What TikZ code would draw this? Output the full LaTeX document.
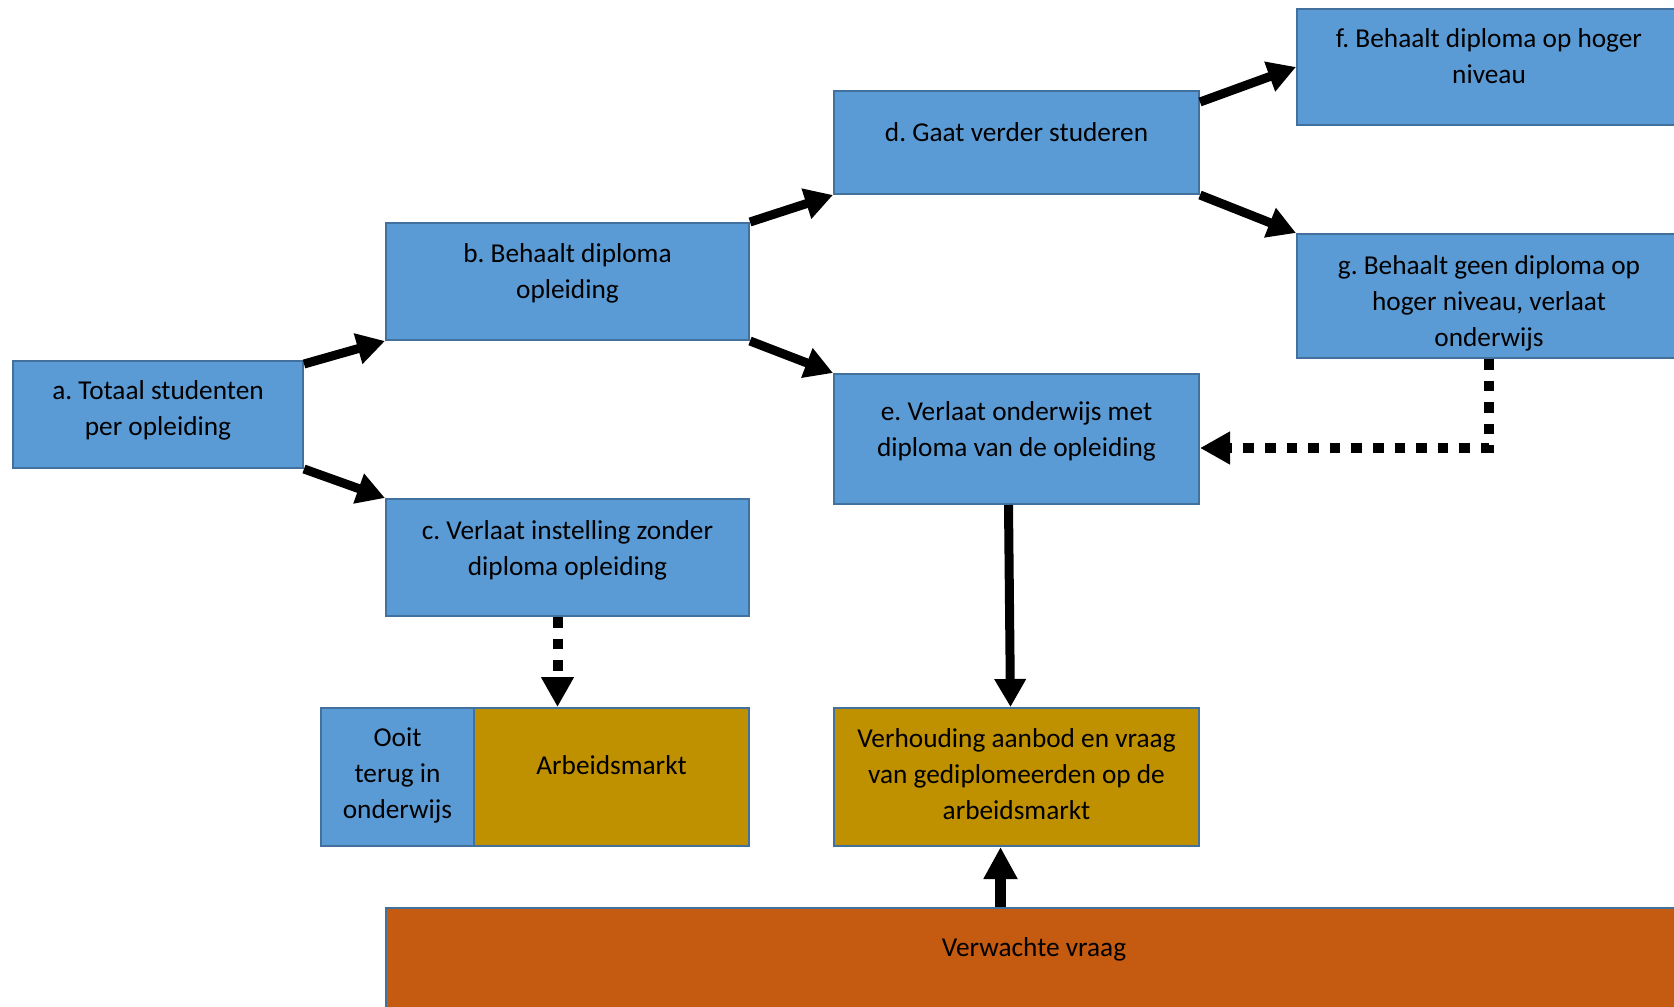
\documentclass[tikz,border=0pt]{standalone}
\usepackage{fontspec}
\setmainfont{Carlito}
\frenchspacing
\usetikzlibrary{arrows.meta,positioning}
\definecolor{boxblue}{HTML}{5B9BD5}
\definecolor{edgeblue}{HTML}{41719C}
\definecolor{ochre}{HTML}{BF9000}
\definecolor{rust}{HTML}{C55A11}

\begin{document}
\begin{tikzpicture}[x=0.5pt,y=-0.5pt,
  font=\fontsize{13.65pt}{18pt}\selectfont,
  box/.style={draw=edgeblue,line width=1pt,fill=boxblue,inner sep=0pt},
  txt/.style={align=center,inner sep=0pt},
  arr/.style={line width=4.5pt,-{Triangle[length=14pt,width=15pt]}},
  dots/.style={line width=5pt,dash pattern=on 5.3pt off 5.5pt,-{Triangle[length=15pt,width=15.5pt]}}]
\useasboundingbox (0,0) rectangle (1674,1006);
\clip (0,0) rectangle (1674,1006);
% boxes
\node[box,minimum width=145pt,minimum height=53.5pt] (a) at (158,414.5) {};
\node[box,minimum width=181.5pt,minimum height=58.5pt] (b) at (567.5,281.5) {};
\node[box,minimum width=181.5pt,minimum height=58.5pt] (c) at (567.5,557.5) {};
\node[box,minimum width=182.5pt,minimum height=51.5pt] (d) at (1016.5,142.5) {};
\node[box,minimum width=182.5pt,minimum height=65pt] (e) at (1016.5,439) {};
\node[box,minimum width=192pt,minimum height=58pt] (f) at (1489,67) {};
\node[box,minimum width=192pt,minimum height=62pt] (g) at (1489,296) {};
\node[box,minimum width=76.5pt,minimum height=69pt] (ooit) at (397.5,777) {};
\node[box,fill=ochre,minimum width=137.5pt,minimum height=69pt] (arbeid) at (611.5,777) {};
\node[box,fill=ochre,minimum width=182.5pt,minimum height=69pt] (verh) at (1016.5,777) {};
\node[box,fill=rust,minimum width=648pt,minimum height=51pt] (vraag) at (1034,959) {};
% texts
\node[txt,below=10pt of a.north] {a. Totaal studenten\\per opleiding};
\node[txt,below=10.5pt of b.north] {b. Behaalt diploma\\opleiding};
\node[txt,below=11pt of c.north] {c. Verlaat instelling zonder\\diploma opleiding};
\node[txt,below=16pt of d.north] {d. Gaat verder studeren};
\node[txt,below=14pt of e.north] {e. Verlaat onderwijs met\\diploma van de opleiding};
\node[txt,below=10pt of f.north] {f. Behaalt diploma op hoger\\niveau};
\node[txt,below=11pt of g.north] {g. Behaalt geen diploma op\\hoger niveau, verlaat\\onderwijs};
\node[txt,below=10pt of ooit.north] {Ooit\\terug in\\onderwijs};
\node[txt,below=24pt of arbeid.north] {Arbeidsmarkt};
\node[txt,below=10.5pt of verh.north] {Verhouding aanbod en vraag\\van gediplomeerden op de\\arbeidsmarkt};
\node[txt,below=15pt of vraag.north] {Verwachte vraag};
% connectors
\draw[arr] ([yshift=-2pt]a.north east) -- (b.south west);
\draw[arr] (a.south east) -- (c.north west);
\draw[arr] (b.north east) -- (d.south west);
\draw[arr] (b.south east) -- (e.north west);
\draw[arr] ([yshift=-6pt]d.north east) -- (f.west);
\draw[arr] (d.south east) -- (g.north west);
\draw[arr] ([xshift=-4pt]e.south) -- ([xshift=-3pt]verh.north);
\draw[arr,line width=5.5pt,-{Triangle[length=16pt,width=16pt]}] ([xshift=-8pt]verh.south |- vraag.north) -- ([xshift=-8pt]verh.south);
\draw[dots] ([xshift=-5pt]c.south) -- ([xshift=-5pt]c.south |- arbeid.north);
\draw[dots] (g.south) |- ([yshift=-4.5pt]e.east);
\end{tikzpicture}
\end{document}
